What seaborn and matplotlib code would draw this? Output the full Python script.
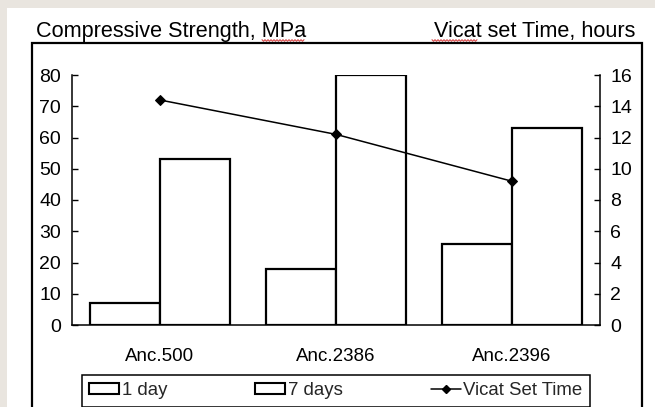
import numpy as np
import pandas as pd
import matplotlib
matplotlib.use("Agg")
import matplotlib.pyplot as plt
from matplotlib.patches import Rectangle, Patch
from matplotlib.lines import Line2D
import seaborn as sns

# ---- data ----
categories = ["Anc.500", "Anc.2386", "Anc.2396"]
strength_1day = [7, 18, 26]
strength_7days = [53, 80, 63]
vicat_hours = [14.4, 12.2, 9.2]
series_names = ["1 day", "7 days"]
left_ticks = [0, 10, 20, 30, 40, 50, 60, 70, 80]
right_ticks = [0, 2, 4, 6, 8, 10, 12, 14, 16]

df = pd.DataFrame({
    "cat": categories * 2,
    "period": [series_names[0]] * 3 + [series_names[1]] * 3,
    "val": strength_1day + strength_7days,
})

sns.set_style("white")
plt.rcParams["font.family"] = ["Liberation Sans", "DejaVu Sans"]

W, H = 655, 407
fig = plt.figure(figsize=(W / 100, H / 100), dpi=100)
fig.patch.set_facecolor("#e9e5df")

def fx(px):
    return px / W

def fy(py):
    return 1 - py / H

# white panel
fig.add_artist(Rectangle((fx(7), -0.1), 1.0, fy(8) + 0.1, transform=fig.transFigure,
                         facecolor="white", edgecolor="none", zorder=-5))
# outer frame
fig.add_artist(Rectangle((fx(32), fy(425)), fx(642) - fx(32), fy(43) - fy(425),
                         transform=fig.transFigure, facecolor="none",
                         edgecolor="black", linewidth=1.6, clip_on=False, zorder=3))

ax = fig.add_axes([fx(72), fy(325), fx(600) - fx(72), fy(75) - fy(325)])
ax.set_facecolor("none")
sns.barplot(data=df, x="cat", y="val", hue="period", order=categories,
            hue_order=series_names, palette=["white", "white"], saturation=1,
            edgecolor="black", linewidth=1.6, width=0.8, ax=ax, legend=False)
ax.set_xlim(-0.5, 2.5)
ax.set_ylim(0, 80)
ax.set_yticks(left_ticks)
ax.set_xlabel("")
ax.set_ylabel("")
for s in ["top", "right"]:
    ax.spines[s].set_visible(False)
for s in ["left", "bottom"]:
    ax.spines[s].set_color("black")
    ax.spines[s].set_linewidth(1.1)
ax.tick_params(axis="y", direction="in", length=4, width=1, pad=8,
               labelsize=14, colors="black", left=True)
ax.tick_params(axis="x", length=0, pad=16.5, labelsize=13.5, colors="black")

ax2 = ax.twinx()
sns.lineplot(x=np.arange(len(categories)), y=vicat_hours, ax=ax2, color="black",
             marker="D", markersize=5.5, markeredgecolor="black", linewidth=1.1)
ax2.set_ylim(0, 16)
ax2.set_yticks(right_ticks)
ax2.set_xlim(-0.5, 2.5)
for s in ["top", "left", "bottom"]:
    ax2.spines[s].set_visible(False)
ax2.spines["right"].set_color("black")
ax2.spines["right"].set_linewidth(1.1)
ax2.tick_params(axis="y", direction="in", length=4, width=1, pad=7.5,
                labelsize=14, colors="black", right=True)

# axis titles
fig.text(fx(36), fy(36.7), "Compressive Strength, MPa", fontsize=15.6,
         ha="left", va="baseline", color="black")
fig.text(fx(635), fy(36.7), "Vicat set Time, hours", fontsize=15.6,
         ha="right", va="baseline", color="black")

# spell-check squiggles
def squiggle(x0, x1, y):
    xs = np.arange(x0, x1 + 0.1, 1.5)
    ys = y + np.where(np.arange(len(xs)) % 2 == 0, -0.8, 0.8)
    fig.add_artist(Line2D(fx(xs), fy(ys), transform=fig.transFigure,
                          color="#d84a4a", linewidth=0.8))
squiggle(262, 305, 40.5)
squiggle(432, 478, 40.5)

handles = [
    Patch(facecolor="white", edgecolor="black", linewidth=1.5),
    Patch(facecolor="white", edgecolor="black", linewidth=1.5),
    Line2D([], [], color="black", marker="D", markersize=4.5, linewidth=1.1),
]
labels = ["1 day", "7 days", "Vicat Set Time"]
leg = fig.legend(handles, labels, loc="upper left",
                 bbox_to_anchor=(fx(82), fy(375), fx(590) - fx(82), 0),
                 mode="expand", ncol=3, fontsize=13.4, frameon=True,
                 fancybox=False, edgecolor="black", framealpha=1,
                 borderaxespad=0, borderpad=0.4, handlelength=1.6,
                 handleheight=0.55, handletextpad=0.15, columnspacing=1.0)
leg.get_frame().set_linewidth(1.1)

fig.savefig("out.png", dpi=100)
